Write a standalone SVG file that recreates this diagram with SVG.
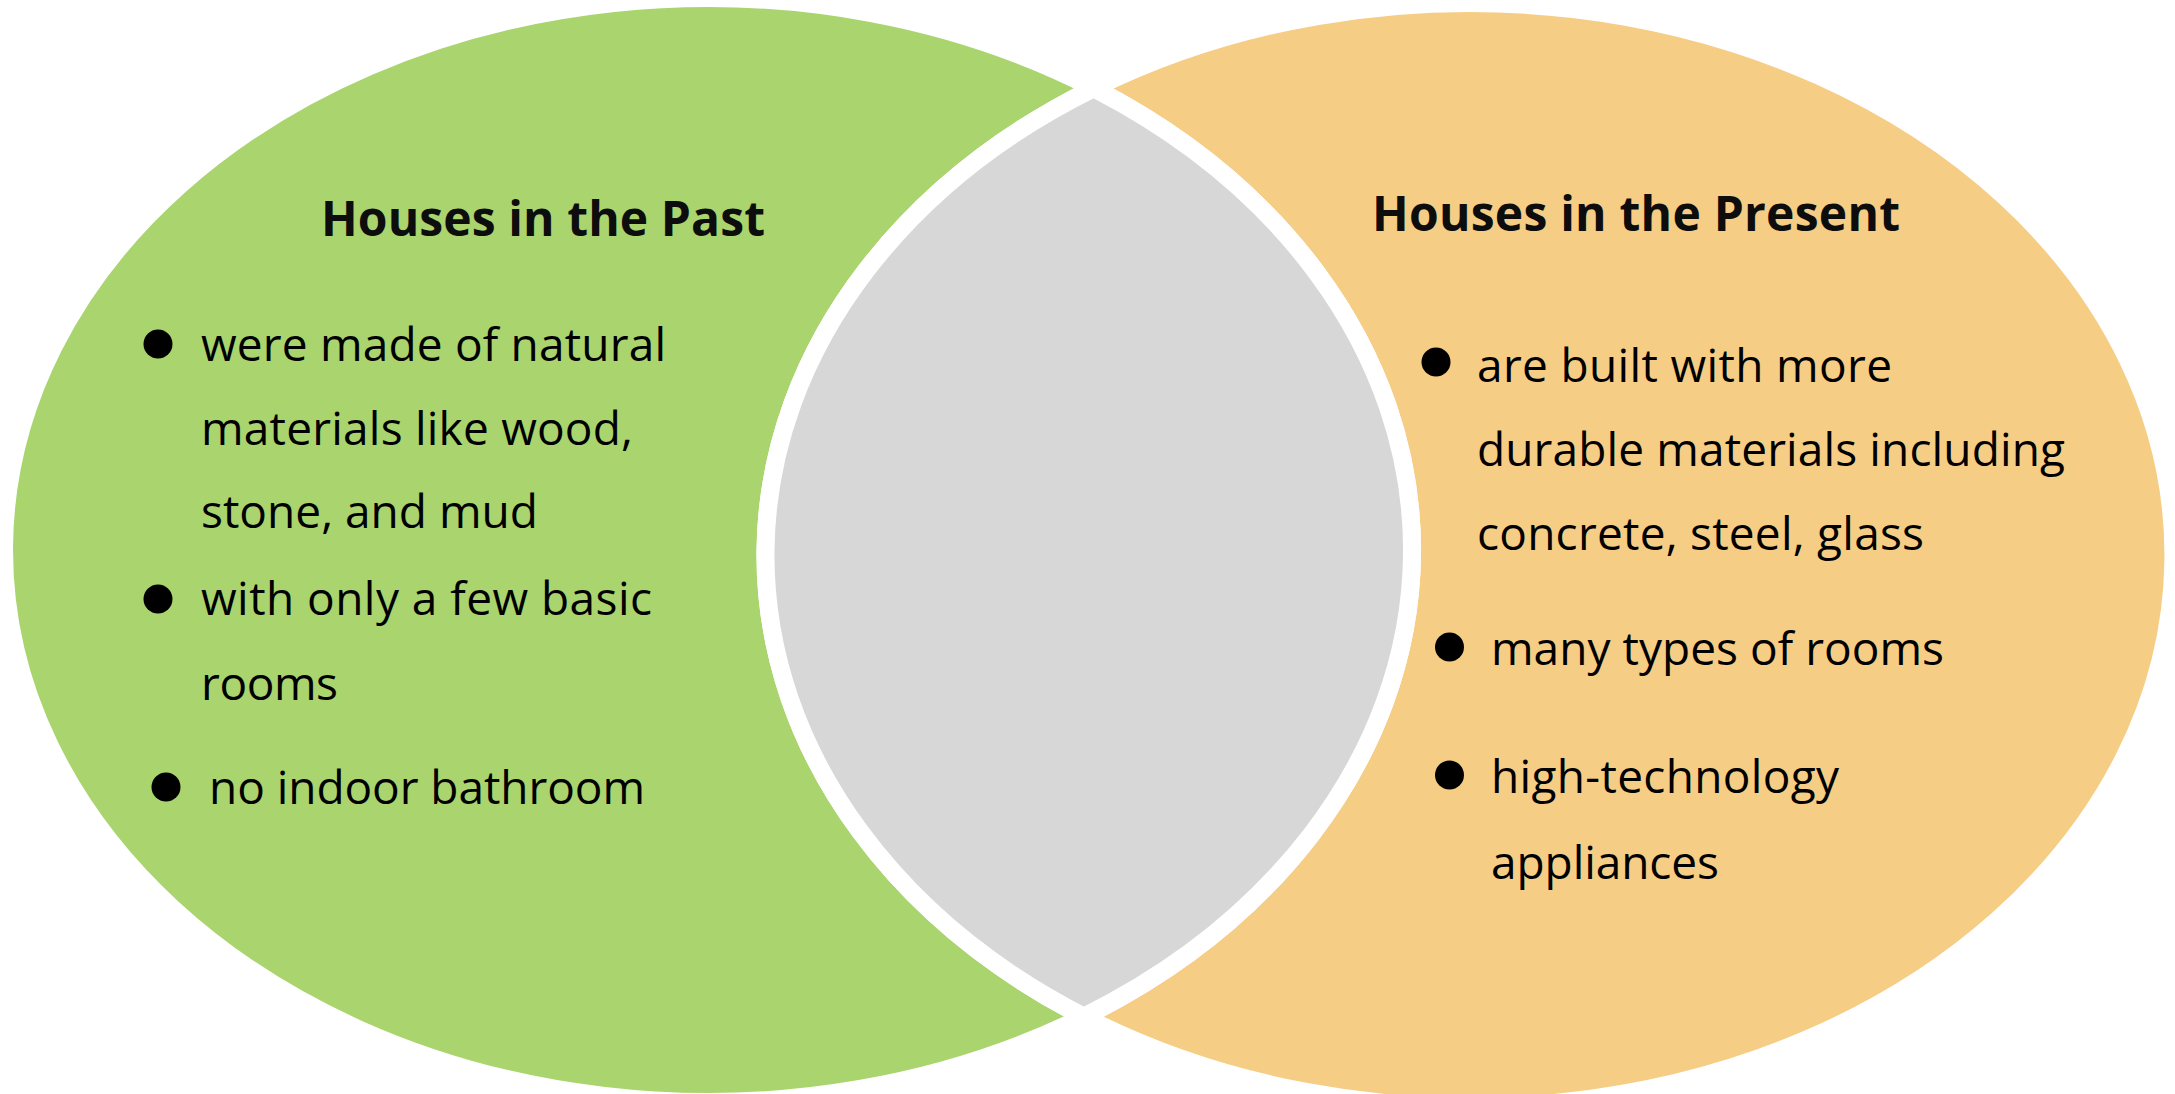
<svg xmlns="http://www.w3.org/2000/svg" width="2175" height="1094" viewBox="0 0 2175 1094">
<style>
.shape{stroke:#FFFFFF;stroke-width:18;stroke-linejoin:miter}
.past{fill:#A9D46E}
.present{fill:#F6CD84}
.overlap{fill:#D7D7D7}
.title{font-family:"Open Sans","Noto Sans","Liberation Sans",sans-serif;font-weight:bold;font-size:48px;fill:#0D0D0D}
.body{font-family:"Open Sans","Noto Sans","Liberation Sans",sans-serif;font-size:46px;fill:#000000}
.dot{fill:#000000}
</style>
<rect x="0" y="0" width="2175" height="1094" fill="#FFFFFF"/>
<g id="past">
<path class="shape past" d="M 1093.7 88.2 A 704 552 0 1 0 1083.8 1016.8 A 704 552 0 0 1 1093.7 88.2 Z"/>
<text class="title" x="321" y="236" textLength="444" lengthAdjust="spacing">Houses in the Past</text>
<circle class="dot" cx="158" cy="344" r="14.5"/>
<circle class="dot" cx="158" cy="599" r="14.5"/>
<circle class="dot" cx="166" cy="787" r="14.5"/>
<text class="body" x="201" y="361" textLength="465" lengthAdjust="spacing">were made of natural</text>
<text class="body" x="201" y="445" textLength="432" lengthAdjust="spacing">materials like wood,</text>
<text class="body" x="201" y="528" textLength="337" lengthAdjust="spacing">stone, and mud</text>
<text class="body" x="201" y="615" textLength="451" lengthAdjust="spacing">with only a few basic</text>
<text class="body" x="201" y="700" textLength="137" lengthAdjust="spacing">rooms</text>
<text class="body" x="209" y="804" textLength="436" lengthAdjust="spacing">no indoor bathroom</text>
</g>
<g id="present">
<path class="shape present" d="M 1093.7 88.2 A 704 552 0 1 1 1083.8 1016.8 A 704 552 0 0 0 1093.7 88.2 Z"/>
<text class="title" x="1372" y="231" textLength="528" lengthAdjust="spacing">Houses in the Present</text>
<circle class="dot" cx="1436" cy="362" r="14.5"/>
<circle class="dot" cx="1449.5" cy="647" r="14.5"/>
<circle class="dot" cx="1449.5" cy="775" r="14.5"/>
<text class="body" x="1477" y="382" textLength="415" lengthAdjust="spacing">are built with more</text>
<text class="body" x="1477" y="466" textLength="588" lengthAdjust="spacing">durable materials including</text>
<text class="body" x="1477" y="549.5" textLength="447" lengthAdjust="spacing">concrete, steel, glass</text>
<text class="body" x="1491" y="664.5" textLength="453" lengthAdjust="spacing">many types of rooms</text>
<text class="body" x="1491" y="793" textLength="348" lengthAdjust="spacing">high-technology</text>
<text class="body" x="1491" y="879" textLength="228" lengthAdjust="spacing">appliances</text>
</g>
<g id="overlap">
<path class="shape overlap" d="M 1093.7 88.2 A 704 552 0 0 0 1083.8 1016.8 A 704 552 0 0 0 1093.7 88.2 Z"/>
</g>
</svg>
